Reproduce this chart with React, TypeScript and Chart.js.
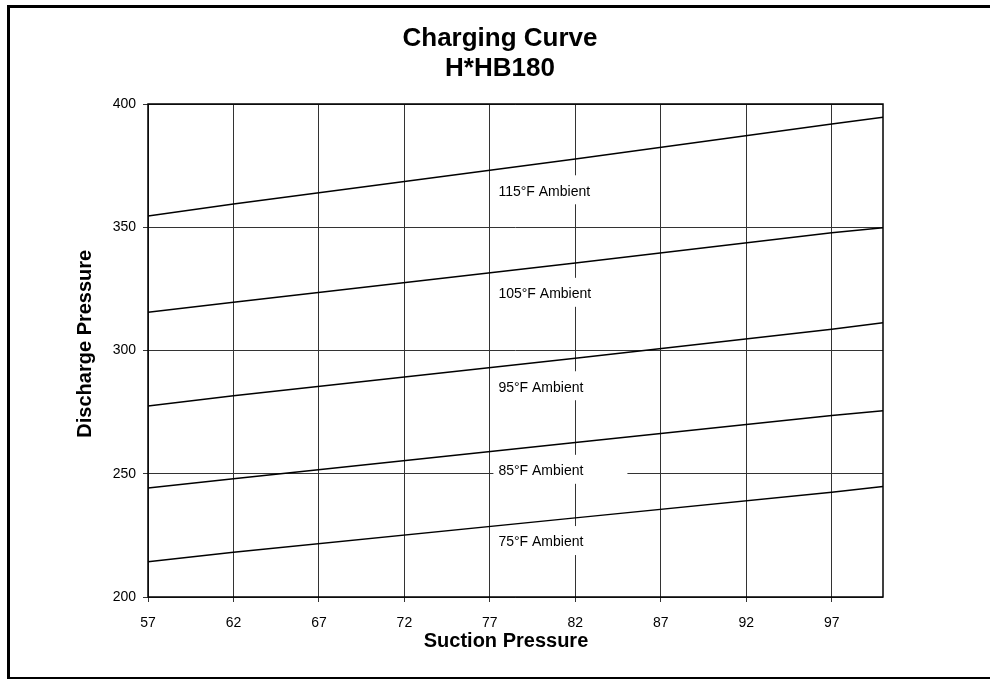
import React, { useEffect, useRef } from "react";
import { Chart, registerables } from "chart.js";

Chart.register(...registerables);

// ---- data ----
const SUCTION = [57, 62, 82, 97, 100];
const AMB_115 = [354.6, 359.4, 377.7, 391.9, 394.6];
const AMB_105 = [315.5, 319.6, 335.5, 347.8, 349.8];
const AMB_95 = [277.5, 281.6, 296.9, 308.6, 311.3];
const AMB_85 = [244.2, 248.0, 262.7, 273.6, 275.6];
const AMB_75 = [214.3, 218.2, 232.1, 242.5, 244.8];

const SERIES = [AMB_115, AMB_105, AMB_95, AMB_85, AMB_75];
const SERIES_NAMES = ["115°F Ambient", "105°F Ambient", "95°F Ambient", "85°F Ambient", "75°F Ambient"];

const LABEL_X = 77.5;
const LABEL_Y = [365.2, 323.6, 285.7, 251.8, 222.9];

const X_TICKS = [57, 62, 67, 72, 77, 82, 87, 92, 97];
const Y_TICKS = [200, 250, 300, 350, 400];

const TITLE_LINES = ["Charging Curve", "H*HB180"];
const X_TITLE = "Suction Pressure";
const Y_TITLE = "Discharge Pressure";

const FONT = '"Liberation Sans", Arial, Helvetica, sans-serif';

const decorPlugin = {
  id: "decor",
  beforeDatasetsDraw(chart: any) {
    const ctx = chart.ctx;
    const xs = chart.scales.x;
    const ys = chart.scales.y;
    ctx.save();
    ctx.font = `14px ${FONT}`;
    ctx.textAlign = "left";
    ctx.textBaseline = "middle";
    SERIES_NAMES.forEach((name, i) => {
      const px = xs.getPixelForValue(LABEL_X);
      const py = ys.getPixelForValue(LABEL_Y[i]);
      ctx.fillStyle = "#ffffff";
      ctx.fillRect(px - 5, py - 14.5, 134, 29);
      ctx.fillStyle = "#000000";
      ctx.fillText(name, px, py + 2);
    });
    ctx.restore();
  },
  afterDraw(chart: any) {
    const ctx = chart.ctx;
    const a = chart.chartArea;
    ctx.save();
    // plot frame
    ctx.strokeStyle = "#000";
    ctx.lineWidth = 1.5;
    ctx.strokeRect(a.left, a.top, a.right - a.left, a.bottom - a.top);
    // main title
    ctx.fillStyle = "#000";
    ctx.font = `bold 26px ${FONT}`;
    ctx.textAlign = "center";
    ctx.textBaseline = "middle";
    TITLE_LINES.forEach((t, i) => {
      ctx.fillText(t, chart.width / 2, 30.6 + i * 30.2);
    });
    // x title
    ctx.font = `bold 20px ${FONT}`;
    ctx.fillText(X_TITLE, (a.left + a.right) / 2 - 9.5, a.bottom + 44.7);
    // y title
    ctx.translate(a.left - 63, (a.top + a.bottom) / 2 - 6.8);
    ctx.rotate(-Math.PI / 2);
    ctx.fillText(Y_TITLE, 0, 0);
    ctx.restore();
  },
};

export default function App() {
  const ref = useRef<HTMLCanvasElement | null>(null);

  useEffect(() => {
    if (!ref.current) return;
    const datasets = SERIES.map((vals, i) => ({
      label: SERIES_NAMES[i],
      data: SUCTION.map((x, j) => ({ x, y: vals[j] })),
      borderColor: "#000",
      borderWidth: 1.5,
      pointRadius: 0,
      tension: 0,
      fill: false,
    }));
    const chart = new Chart(ref.current, {
      type: "line",
      data: { datasets },
      options: {
        animation: false,
        responsive: false,
        devicePixelRatio: 1,
        layout: { padding: { left: 0, right: 107, top: 96, bottom: 0 } },
        plugins: {
          legend: { display: false },
          tooltip: { enabled: false },
          title: { display: false },
        },
        scales: {
          x: {
            type: "linear",
            min: 57,
            max: 100,
            afterBuildTicks: (s: any) => {
              s.ticks = X_TICKS.map((v) => ({ value: v }));
            },
            afterFit: (s: any) => {
              s.height = 81;
            },
            grid: { color: "#333", lineWidth: 1, tickLength: 5, drawTicks: true },
            border: { display: false },
            ticks: {
              color: "#000",
              font: { family: FONT, size: 14 },
              padding: 13,
              maxRotation: 0,
              autoSkip: false,
            },
          },
          y: {
            type: "linear",
            min: 200,
            max: 400,
            afterBuildTicks: (s: any) => {
              s.ticks = Y_TICKS.map((v) => ({ value: v }));
            },
            afterFit: (s: any) => {
              s.width = 138;
            },
            grid: { color: "#333", lineWidth: 1, tickLength: 5, drawTicks: true },
            border: { display: false },
            ticks: {
              color: "#000",
              font: { family: FONT, size: 14 },
              padding: 7,
              autoSkip: false,
            },
          },
        },
      },
      plugins: [decorPlugin],
    } as any);
    return () => chart.destroy();
  }, []);

  return (
    <div style={{ position: "fixed", left: 0, top: 0, width: 990, height: 679, overflow: "hidden", background: "#fff" }}>
      <div
        style={{
          position: "absolute",
          left: 7,
          top: 5,
          width: 1000,
          height: 669,
          border: "3px solid #000",
          boxSizing: "content-box",
        }}
      />
      <canvas
        ref={ref}
        width={980}
        height={670}
        style={{ position: "absolute", left: 10, top: 8, width: 980, height: 670 }}
      />
    </div>
  );
}
